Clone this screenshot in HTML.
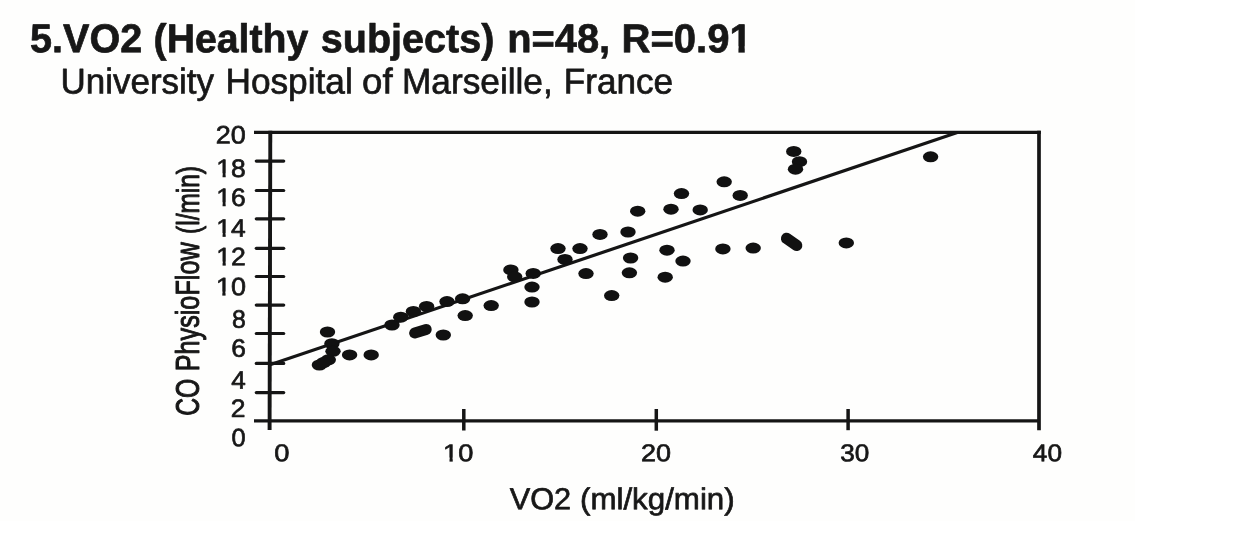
<!DOCTYPE html>
<html lang="en">
<head>
<meta charset="utf-8">
<title>5.VO2 (Healthy subjects) n=48, R=0.91</title>
<style>
  html, body { margin: 0; padding: 0; background: #ffffff; }
  body { width: 1244px; height: 539px; overflow: hidden; position: relative; font-family: "Liberation Sans", Arial, sans-serif; }
  .scan { position: absolute; left: 0; top: 0; width: 1135px; height: 521px; background: #fefefd; }
  svg { position: absolute; left: 0; top: 0; }
  text { font-family: "Liberation Sans", Arial, sans-serif; fill: #171717; }
  .pt { fill: #111111; }
  .mask { fill: #fefefd; }
</style>
</head>
<body>
<div class="scan"></div>
<svg width="1244" height="539" viewBox="0 0 1244 539">
  <!-- text -->
  <g id="labels" stroke="#171717" stroke-width="0.7" stroke-linejoin="round">
    <text transform="translate(30.06 52.15) rotate(0.03) scale(0.9817 1)" font-size="40.3" font-weight="bold">5.VO2</text>
    <text transform="translate(153.60 52.15) rotate(0.03) scale(0.9733 1)" font-size="40.3" font-weight="bold">(Healthy</text>
    <text transform="translate(320.82 52.15) rotate(0.03) scale(0.9813 1)" font-size="40.3" font-weight="bold">subjects)</text>
    <text transform="translate(507.17 52.15) rotate(0.03) scale(0.9889 1)" font-size="40.3" font-weight="bold">n=48,</text>
    <text transform="translate(621.56 52.15) rotate(0.03) scale(0.9938 1)" font-size="40.3" font-weight="bold">R=0.91</text>
    <text transform="translate(60.56 93.45) rotate(0.03) scale(0.9768 1)" font-size="35.8">University</text>
    <text transform="translate(225.44 93.45) rotate(0.03) scale(0.9844 1)" font-size="35.8">Hospital</text>
    <text transform="translate(362.12 93.45) rotate(0.03) scale(1.0207 1)" font-size="35.8">of</text>
    <text transform="translate(402.04 93.45) rotate(0.03) scale(0.9841 1)" font-size="35.8">Marseille,</text>
    <text transform="translate(563.85 93.45) rotate(0.03) scale(0.9810 1)" font-size="35.8">France</text>
    <text transform="translate(215.63 143.55) rotate(0.03) scale(1.0705 1)" font-size="25.2">20</text>
    <text transform="translate(216.30 176.95) rotate(0.03) scale(1.0495 1)" font-size="25.2">18</text>
    <text transform="translate(216.30 205.95) rotate(0.03) scale(1.0495 1)" font-size="25.2">16</text>
    <text transform="translate(216.31 236.75) rotate(0.03) scale(1.0471 1)" font-size="25.2">14</text>
    <text transform="translate(216.29 265.35) rotate(0.03) scale(1.0545 1)" font-size="25.2">12</text>
    <text transform="translate(215.96 295.25) rotate(0.03) scale(1.0693 1)" font-size="25.2">10</text>
    <text transform="translate(232.06 327.85) rotate(0.03) scale(0.9840 1)" font-size="25.2">8</text>
    <text transform="translate(231.26 356.75) rotate(0.03) scale(1.0449 1)" font-size="25.2">6</text>
    <text transform="translate(231.14 388.65) rotate(0.03) scale(1.0340 1)" font-size="25.2">4</text>
    <text transform="translate(230.85 416.95) rotate(0.03) scale(1.0500 1)" font-size="25.2">2</text>
    <text transform="translate(231.54 446.25) rotate(0.03) scale(1.0080 1)" font-size="25.2">0</text>
    <text transform="translate(274.14 461.15) rotate(0.03) scale(1.1200 1)" font-size="24.4">0</text>
    <text transform="translate(443.07 461.15) rotate(0.03) scale(1.1143 1)" font-size="24.4">10</text>
    <text transform="translate(640.89 461.15) rotate(0.03) scale(1.1059 1)" font-size="24.4">20</text>
    <text transform="translate(840.37 461.15) rotate(0.03) scale(1.0692 1)" font-size="24.4">30</text>
    <text transform="translate(1032.83 461.15) rotate(0.03) scale(1.0743 1)" font-size="24.4">40</text>
    <text transform="translate(509.65 509.25) rotate(0.03) scale(1.0100 1)" font-size="30.4">VO2</text>
    <text transform="translate(579.96 509.25) rotate(0.03) scale(1.0295 1)" font-size="30.4">(ml/kg/min)</text>
    <text transform="translate(199.30 415.85) rotate(-90) scale(0.7632 1)" font-size="32.3" stroke-width="1.0">CO</text>
    <text transform="translate(199.30 371.26) rotate(-90) scale(0.7804 1)" font-size="32.3" stroke-width="1.0">PhysioFlow</text>
    <text transform="translate(199.30 233.94) rotate(-90) scale(0.7573 1)" font-size="32.3" stroke-width="1.0">(l/min)</text>
  </g>
  <!-- hide the foot serif of the digit 1 (the original face has a plain 1) -->
  <g class="mask">
    <g transform="translate(621.56 52.15) rotate(0.03) scale(0.9938 1)"><rect x="109.57" y="-6.03" width="8.05" height="7.93"/><rect x="123.96" y="-6.03" width="7.55" height="7.93"/></g>
    <g transform="translate(216.30 176.95) rotate(0.03) scale(1.0495 1)"><rect x="0.29" y="-3.79" width="5.67" height="5.69"/><rect x="8.97" y="-3.79" width="5.42" height="5.69"/></g>
    <g transform="translate(216.30 205.95) rotate(0.03) scale(1.0495 1)"><rect x="0.29" y="-3.79" width="5.67" height="5.69"/><rect x="8.97" y="-3.79" width="5.42" height="5.69"/></g>
    <g transform="translate(216.31 236.75) rotate(0.03) scale(1.0471 1)"><rect x="0.29" y="-3.79" width="5.67" height="5.69"/><rect x="8.97" y="-3.79" width="5.42" height="5.69"/></g>
    <g transform="translate(216.29 265.35) rotate(0.03) scale(1.0545 1)"><rect x="0.29" y="-3.79" width="5.67" height="5.69"/><rect x="8.97" y="-3.79" width="5.42" height="5.69"/></g>
    <g transform="translate(215.96 295.25) rotate(0.03) scale(1.0693 1)"><rect x="0.29" y="-3.79" width="5.67" height="5.69"/><rect x="8.97" y="-3.79" width="5.42" height="5.69"/></g>
    <g transform="translate(443.07 461.15) rotate(0.03) scale(1.1143 1)"><rect x="0.23" y="-3.73" width="5.53" height="5.63"/><rect x="8.70" y="-3.73" width="5.29" height="5.63"/></g>
  </g>

  <!-- frame -->
  <g stroke="#151515" fill="none" stroke-linecap="butt">
    <line x1="254" y1="132.3" x2="1040.8" y2="132.3" stroke-width="3.3"/>
    <line x1="1039" y1="130.7" x2="1039" y2="430.3" stroke-width="3.7"/>
    <line x1="254" y1="420.8" x2="1040" y2="420.8" stroke-width="3.3"/>
    <line x1="270.3" y1="130.7" x2="269.6" y2="430" stroke-width="3.9"/>
    <!-- y ticks -->
    <g stroke-width="3.2" stroke-linecap="round">
      <line x1="256.3" y1="161.1" x2="283.7" y2="161.1"/>
      <line x1="256.3" y1="190.5" x2="283.7" y2="190.5"/>
      <line x1="256.3" y1="218.8" x2="283.7" y2="218.8"/>
      <line x1="256.3" y1="248.3" x2="283.7" y2="248.3"/>
      <line x1="256.3" y1="276.5" x2="283.7" y2="276.5"/>
      <line x1="256.3" y1="305.1" x2="283.7" y2="305.1"/>
      <line x1="256.3" y1="333.5" x2="283.7" y2="333.5"/>
      <line x1="256.3" y1="363.4" x2="283.7" y2="363.4"/>
      <line x1="256.3" y1="392.6" x2="283.7" y2="392.6"/>
    </g>
    <!-- x ticks -->
    <g stroke-width="3.5">
      <line x1="463.8" y1="409" x2="463.8" y2="430.5"/>
      <line x1="656.3" y1="409" x2="656.3" y2="430.7"/>
      <line x1="848.1" y1="409" x2="848.1" y2="430.2"/>
    </g>
    <!-- regression line -->
    <line x1="270" y1="364.8" x2="957.3" y2="132.5" stroke-width="3.2"/>
  </g>

  <!-- data points -->
  <g class="pt" id="pts">
    <ellipse cx="327.5" cy="332.0" rx="7.7" ry="5.5"/>
    <ellipse cx="331.9" cy="343.7" rx="7.7" ry="5.5"/>
    <ellipse cx="333.0" cy="351.3" rx="7.7" ry="5.5"/>
    <ellipse cx="328.3" cy="359.8" rx="7.7" ry="5.5"/>
    <ellipse cx="319.4" cy="365.0" rx="7.7" ry="5.5"/>
    <ellipse cx="323.5" cy="362.6" rx="7.7" ry="5.5"/>
    <ellipse cx="349.6" cy="354.9" rx="7.7" ry="5.5"/>
    <ellipse cx="371.2" cy="354.9" rx="7.7" ry="5.5"/>
    <ellipse cx="392.0" cy="325.0" rx="7.7" ry="5.5"/>
    <ellipse cx="400.8" cy="317.2" rx="7.7" ry="5.5"/>
    <ellipse cx="413.4" cy="311.5" rx="7.7" ry="5.5"/>
    <ellipse cx="426.6" cy="306.4" rx="7.7" ry="5.5"/>
    <ellipse cx="447" cy="301.6" rx="7.7" ry="5.5"/>
    <ellipse cx="462.6" cy="298.8" rx="7.7" ry="5.5"/>
    <ellipse cx="443.3" cy="335.0" rx="7.7" ry="5.5"/>
    <ellipse cx="465.2" cy="315.6" rx="7.7" ry="5.5"/>
    <ellipse cx="491.2" cy="305.6" rx="7.7" ry="5.5"/>
    <ellipse cx="510.9" cy="269.9" rx="7.7" ry="5.5"/>
    <ellipse cx="514.7" cy="276.8" rx="7.7" ry="5.5"/>
    <ellipse cx="533.2" cy="273.4" rx="7.7" ry="5.5"/>
    <ellipse cx="532" cy="287.1" rx="7.7" ry="5.5"/>
    <ellipse cx="532" cy="302.0" rx="7.7" ry="5.5"/>
    <ellipse cx="558" cy="248.6" rx="7.7" ry="5.5"/>
    <ellipse cx="565" cy="259.4" rx="7.7" ry="5.5"/>
    <ellipse cx="580" cy="248.6" rx="7.7" ry="5.5"/>
    <ellipse cx="586" cy="273.6" rx="7.7" ry="5.5"/>
    <ellipse cx="600" cy="234.4" rx="7.7" ry="5.5"/>
    <ellipse cx="611.7" cy="295.6" rx="7.7" ry="5.5"/>
    <ellipse cx="628" cy="232.0" rx="7.7" ry="5.5"/>
    <ellipse cx="630.6" cy="258.0" rx="7.7" ry="5.5"/>
    <ellipse cx="629.4" cy="272.8" rx="7.7" ry="5.5"/>
    <ellipse cx="637.7" cy="211.2" rx="7.7" ry="5.5"/>
    <ellipse cx="671" cy="209.2" rx="7.7" ry="5.5"/>
    <ellipse cx="667" cy="250.2" rx="7.7" ry="5.5"/>
    <ellipse cx="665.2" cy="277.2" rx="7.7" ry="5.5"/>
    <ellipse cx="681.5" cy="193.6" rx="7.7" ry="5.5"/>
    <ellipse cx="683" cy="261.1" rx="7.7" ry="5.5"/>
    <ellipse cx="700.2" cy="209.9" rx="7.7" ry="5.5"/>
    <ellipse cx="722.9" cy="248.9" rx="7.7" ry="5.5"/>
    <ellipse cx="724.2" cy="181.8" rx="7.7" ry="5.5"/>
    <ellipse cx="740.2" cy="195.4" rx="7.7" ry="5.5"/>
    <ellipse cx="793.75" cy="151.4" rx="7.7" ry="5.5"/>
    <ellipse cx="799.5" cy="161.7" rx="7.7" ry="5.5"/>
    <ellipse cx="795.5" cy="169.2" rx="7.7" ry="5.5"/>
    <ellipse cx="930.6" cy="156.8" rx="7.7" ry="5.5"/>
    <ellipse cx="753.2" cy="248.1" rx="7.7" ry="5.5"/>
    <ellipse cx="846.3" cy="242.9" rx="7.7" ry="5.5"/>
    <line x1="414.7" y1="333.0" x2="426.2" y2="329.4" stroke="#111111" stroke-width="11.0" stroke-linecap="round"/>
    <line x1="786.6" y1="238.4" x2="796.6" y2="245.4" stroke="#111111" stroke-width="11.4" stroke-linecap="round"/>
  </g>
</svg>
</body>
</html>
